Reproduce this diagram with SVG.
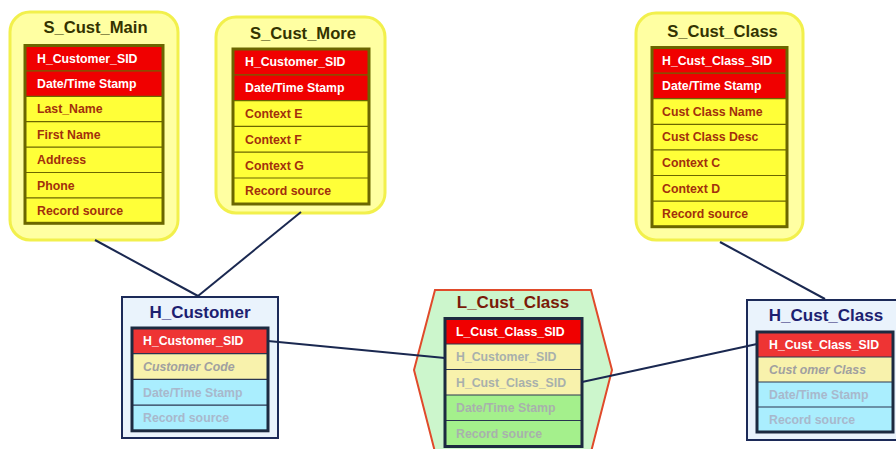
<svg xmlns="http://www.w3.org/2000/svg" width="896" height="449" viewBox="0 0 896 449">
<style>
.f{font-family:"Liberation Sans",Arial,sans-serif;font-weight:bold}
.r{font-size:12.3px}
.ttl{font-size:16.6px;text-anchor:middle}
.ttlh{font-size:17px;text-anchor:middle}
.sout{fill:#ffffa2;stroke:#f2f04c;stroke-width:3}
.hout{fill:#eaf3fc;stroke:#1c2a58;stroke-width:2}
.red{fill:#f00000}
.hred{fill:#ee3434}
.yel{fill:#ffff38}
.lyel{fill:#f8f2ac}
.cyan{fill:#aaeefe}
.grn{fill:#a4f08c}
.sep{stroke:#6b6600;stroke-width:1.2}
.hsep{stroke:#2a3550;stroke-width:1.2}
.sbord{fill:none;stroke:#6b6600;stroke-width:3}
.hbord{fill:none;stroke:#1c2a40;stroke-width:3}
.w{fill:#ffffff}
.br{fill:#a2300c}
.st{fill:#333300}
.ht{fill:#1c2070}
.lt{fill:#7a1a08}
.gi{fill:#a0a0a0;font-style:italic}
.gb{fill:#a8b8cc}
.gl{fill:#a8b0ac}
.conn{stroke:#1a2850;stroke-width:2;fill:none}
</style>

<g id="S_Cust_Main">
<rect class="sout" x="10" y="12" width="168" height="228" rx="20"/>
<text class="f ttl st" x="95.5" y="33">S_Cust_Main</text>
<rect class="red" x="25" y="45.5" width="138" height="50.8"/>
<rect class="yel" x="25" y="96.3" width="138" height="127"/>
<line class="sep" x1="25" y1="70.9" x2="163" y2="70.9"/>
<line class="sep" x1="25" y1="96.3" x2="163" y2="96.3"/>
<line class="sep" x1="25" y1="121.7" x2="163" y2="121.7"/>
<line class="sep" x1="25" y1="147.1" x2="163" y2="147.1"/>
<line class="sep" x1="25" y1="172.5" x2="163" y2="172.5"/>
<line class="sep" x1="25" y1="197.9" x2="163" y2="197.9"/>
<rect class="sbord" x="25" y="45.5" width="138" height="177.8"/>
<text class="f r w" x="37" y="62.6">H_Customer_SID</text>
<text class="f r w" x="37" y="88">Date/Time Stamp</text>
<text class="f r br" x="37" y="113.4">Last_Name</text>
<text class="f r br" x="37" y="138.8">First Name</text>
<text class="f r br" x="37" y="164.2">Address</text>
<text class="f r br" x="37" y="189.6">Phone</text>
<text class="f r br" x="37" y="215">Record source</text>
</g>

<g id="S_Cust_More">
<rect class="sout" x="216" y="17" width="169" height="196" rx="20"/>
<text class="f ttl st" x="303" y="39">S_Cust_More</text>
<rect class="red" x="233" y="49" width="136" height="51.6"/>
<rect class="yel" x="233" y="100.6" width="136" height="103.4"/>
<line class="sep" x1="233" y1="74.8" x2="369" y2="74.8"/>
<line class="sep" x1="233" y1="100.6" x2="369" y2="100.6"/>
<line class="sep" x1="233" y1="126.4" x2="369" y2="126.4"/>
<line class="sep" x1="233" y1="152.2" x2="369" y2="152.2"/>
<line class="sep" x1="233" y1="178" x2="369" y2="178"/>
<rect class="sbord" x="233" y="49" width="136" height="155"/>
<text class="f r w" x="245" y="66.3">H_Customer_SID</text>
<text class="f r w" x="245" y="92.1">Date/Time Stamp</text>
<text class="f r br" x="245" y="117.9">Context E</text>
<text class="f r br" x="245" y="143.7">Context F</text>
<text class="f r br" x="245" y="169.5">Context G</text>
<text class="f r br" x="245" y="195.3">Record source</text>
</g>

<g id="S_Cust_Class">
<rect class="sout" x="636" y="13" width="167" height="227" rx="20"/>
<text class="f ttl st" x="722.5" y="37">S_Cust_Class</text>
<rect class="red" x="652" y="47.5" width="135" height="51.2"/>
<rect class="yel" x="652" y="98.7" width="135" height="128"/>
<line class="sep" x1="652" y1="73.1" x2="787" y2="73.1"/>
<line class="sep" x1="652" y1="98.7" x2="787" y2="98.7"/>
<line class="sep" x1="652" y1="124.3" x2="787" y2="124.3"/>
<line class="sep" x1="652" y1="149.9" x2="787" y2="149.9"/>
<line class="sep" x1="652" y1="175.5" x2="787" y2="175.5"/>
<line class="sep" x1="652" y1="201.1" x2="787" y2="201.1"/>
<rect class="sbord" x="652" y="47.5" width="135" height="179.2"/>
<text class="f r w" x="662" y="64.6">H_Cust_Class_SID</text>
<text class="f r w" x="662" y="90.2">Date/Time Stamp</text>
<text class="f r br" x="662" y="115.8">Cust Class Name</text>
<text class="f r br" x="662" y="141.4">Cust Class Desc</text>
<text class="f r br" x="662" y="167">Context C</text>
<text class="f r br" x="662" y="192.6">Context D</text>
<text class="f r br" x="662" y="218.2">Record source</text>
</g>

<g id="H_Customer">
<rect class="hout" x="122" y="297" width="156" height="141"/>
<text class="f ttlh ht" x="200" y="317.5">H_Customer</text>
<rect class="hred" x="132" y="328" width="136" height="25.7"/>
<rect class="lyel" x="132" y="353.7" width="136" height="25.7"/>
<rect class="cyan" x="132" y="379.4" width="136" height="51.4"/>
<line class="hsep" x1="132" y1="353.7" x2="268" y2="353.7"/>
<line class="hsep" x1="132" y1="379.4" x2="268" y2="379.4"/>
<line class="hsep" x1="132" y1="405.1" x2="268" y2="405.1"/>
<rect class="hbord" x="132" y="328" width="136" height="102.8"/>
<text class="f r w" x="143" y="345.3">H_Customer_SID</text>
<text class="f r gi" x="143" y="371">Customer Code</text>
<text class="f r gb" x="143" y="396.7">Date/Time Stamp</text>
<text class="f r gb" x="143" y="422.4">Record source</text>
</g>

<g id="L_Cust_Class">
<polygon points="435,290 591,290 612,370 591,452 435,452 414,370" fill="#ccf6cc" stroke="#e04a2a" stroke-width="2"/>
<text class="f ttlh lt" x="513" y="307.5">L_Cust_Class</text>
<rect class="red" x="445" y="318.5" width="137" height="25.5"/>
<rect class="lyel" x="445" y="344" width="137" height="51"/>
<rect class="grn" x="445" y="395" width="137" height="51"/>
<line class="hsep" x1="445" y1="344" x2="582" y2="344"/>
<line class="hsep" x1="445" y1="369.5" x2="582" y2="369.5"/>
<line class="hsep" x1="445" y1="395" x2="582" y2="395"/>
<line class="hsep" x1="445" y1="420.5" x2="582" y2="420.5"/>
<rect class="hbord" x="445" y="318.5" width="137" height="128"/>
<text class="f r w" x="456" y="335.7">L_Cust_Class_SID</text>
<text class="f r gl" x="456" y="361.2">H_Customer_SID</text>
<text class="f r gl" x="456" y="386.7">H_Cust_Class_SID</text>
<text class="f r gl" x="456" y="412.2">Date/Time Stamp</text>
<text class="f r gl" x="456" y="437.7">Record source</text>
</g>

<g id="H_Cust_Class">
<rect class="hout" x="747" y="300" width="160" height="140"/>
<text class="f ttlh ht" x="826" y="320.5">H_Cust_Class</text>
<rect class="hred" x="757" y="332" width="136" height="25"/>
<rect class="lyel" x="757" y="357" width="136" height="25"/>
<rect class="cyan" x="757" y="382" width="136" height="50"/>
<line class="hsep" x1="757" y1="357" x2="893" y2="357"/>
<line class="hsep" x1="757" y1="382" x2="893" y2="382"/>
<line class="hsep" x1="757" y1="407" x2="893" y2="407"/>
<rect class="hbord" x="757" y="332" width="136" height="100"/>
<text class="f r w" x="769" y="349">H_Cust_Class_SID</text>
<text class="f r gi" x="769" y="374">Cust omer Class</text>
<text class="f r gb" x="769" y="399">Date/Time Stamp</text>
<text class="f r gb" x="769" y="424">Record source</text>
</g>

<g id="connectors">
<line class="conn" x1="95" y1="240" x2="198" y2="296"/>
<line class="conn" x1="301" y1="212" x2="198" y2="296"/>
<line class="conn" x1="720" y1="242" x2="825" y2="299"/>
<line class="conn" x1="268" y1="341" x2="445" y2="358"/>
<line class="conn" x1="582" y1="382" x2="757" y2="344"/>
</g>
</svg>
